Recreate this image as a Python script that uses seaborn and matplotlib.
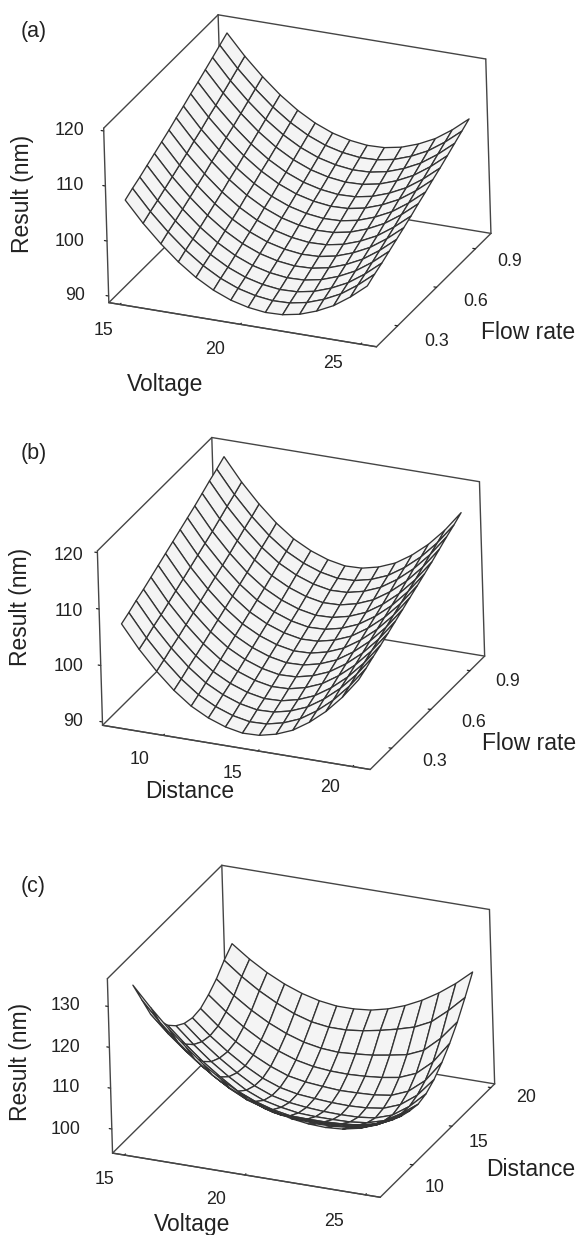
import numpy as np
import matplotlib
matplotlib.use("Agg")
import matplotlib.pyplot as plt
import seaborn as sns

W, H = 576, 1235

# Panel (a)
voltage_a = [15, 15.714, 16.429, 17.143, 17.857, 18.571, 19.286, 20, 20.714, 21.429, 22.143, 22.857, 23.571, 24.286, 25]
flow_a = [0.2, 0.257, 0.314, 0.371, 0.429, 0.486, 0.543, 0.6, 0.657, 0.714, 0.771, 0.829, 0.886, 0.943, 1.0]
result_a = [
    [106.3, 102.6, 99.4, 96.6, 94.3, 92.5, 91.2, 90.4, 90.0, 90.1, 90.7, 91.8, 93.3, 95.4, 97.9],
    [107.1, 103.4, 100.2, 97.4, 95.1, 93.3, 92.0, 91.2, 90.8, 90.9, 91.5, 92.6, 94.1, 96.2, 98.7],
    [107.8, 104.1, 100.9, 98.1, 95.8, 94.0, 92.7, 91.9, 91.5, 91.6, 92.2, 93.3, 94.8, 96.9, 99.4],
    [108.6, 104.9, 101.7, 98.9, 96.6, 94.8, 93.5, 92.7, 92.3, 92.4, 93.0, 94.1, 95.6, 97.7, 100.2],
    [109.4, 105.7, 102.5, 99.7, 97.4, 95.6, 94.3, 93.5, 93.1, 93.2, 93.8, 94.9, 96.4, 98.5, 101.0],
    [110.2, 106.5, 103.3, 100.5, 98.2, 96.4, 95.1, 94.3, 93.9, 94.0, 94.6, 95.7, 97.2, 99.3, 101.8],
    [111.0, 107.3, 104.1, 101.3, 99.0, 97.2, 95.9, 95.1, 94.7, 94.8, 95.4, 96.5, 98.0, 100.1, 102.6],
    [111.9, 108.2, 105.0, 102.2, 99.9, 98.1, 96.8, 96.0, 95.6, 95.7, 96.3, 97.4, 98.9, 101.0, 103.5],
    [112.7, 109.0, 105.8, 103.0, 100.7, 98.9, 97.6, 96.8, 96.4, 96.5, 97.1, 98.2, 99.7, 101.8, 104.3],
    [113.6, 109.9, 106.7, 103.9, 101.6, 99.8, 98.5, 97.7, 97.3, 97.4, 98.0, 99.1, 100.6, 102.7, 105.2],
    [114.4, 110.7, 107.5, 104.7, 102.4, 100.6, 99.3, 98.5, 98.1, 98.2, 98.8, 99.9, 101.4, 103.5, 106.0],
    [115.3, 111.6, 108.4, 105.6, 103.3, 101.5, 100.2, 99.4, 99.0, 99.1, 99.7, 100.8, 102.3, 104.4, 106.9],
    [116.2, 112.5, 109.3, 106.5, 104.2, 102.4, 101.1, 100.3, 99.9, 100.0, 100.6, 101.7, 103.2, 105.3, 107.8],
    [117.1, 113.4, 110.2, 107.4, 105.1, 103.3, 102.0, 101.2, 100.8, 100.9, 101.5, 102.6, 104.1, 106.2, 108.7],
    [118.0, 114.3, 111.1, 108.3, 106.0, 104.2, 102.9, 102.1, 101.7, 101.8, 102.4, 103.5, 105.0, 107.1, 109.6],
]

# Panel (b)
distance_b = [7.5, 8.393, 9.286, 10.179, 11.071, 11.964, 12.857, 13.75, 14.643, 15.536, 16.429, 17.321, 18.214, 19.107, 20]
flow_b = [0.2, 0.257, 0.314, 0.371, 0.429, 0.486, 0.543, 0.6, 0.657, 0.714, 0.771, 0.829, 0.886, 0.943, 1.0]
result_b = [
    [106.3, 102.3, 98.9, 96.0, 93.7, 92.1, 91.0, 90.4, 90.5, 91.2, 92.4, 94.3, 96.7, 99.7, 103.3],
    [107.0, 103.0, 99.6, 96.7, 94.4, 92.8, 91.7, 91.1, 91.2, 91.9, 93.1, 95.0, 97.4, 100.4, 104.0],
    [107.8, 103.8, 100.4, 97.5, 95.2, 93.6, 92.5, 91.9, 92.0, 92.7, 93.9, 95.8, 98.2, 101.2, 104.8],
    [108.5, 104.5, 101.1, 98.2, 95.9, 94.3, 93.2, 92.6, 92.7, 93.4, 94.6, 96.5, 98.9, 101.9, 105.5],
    [109.3, 105.3, 101.9, 99.0, 96.7, 95.1, 94.0, 93.4, 93.5, 94.2, 95.4, 97.3, 99.7, 102.7, 106.3],
    [110.1, 106.1, 102.7, 99.8, 97.5, 95.9, 94.8, 94.2, 94.3, 95.0, 96.2, 98.1, 100.5, 103.5, 107.1],
    [110.9, 106.9, 103.5, 100.6, 98.3, 96.7, 95.6, 95.0, 95.1, 95.8, 97.0, 98.9, 101.3, 104.3, 107.9],
    [111.7, 107.7, 104.3, 101.4, 99.1, 97.5, 96.4, 95.8, 95.9, 96.6, 97.8, 99.7, 102.1, 105.1, 108.7],
    [112.5, 108.5, 105.1, 102.2, 99.9, 98.3, 97.2, 96.6, 96.7, 97.4, 98.6, 100.5, 102.9, 105.9, 109.5],
    [113.3, 109.3, 105.9, 103.0, 100.7, 99.1, 98.0, 97.4, 97.5, 98.2, 99.4, 101.3, 103.7, 106.7, 110.3],
    [114.1, 110.1, 106.7, 103.8, 101.5, 99.9, 98.8, 98.2, 98.3, 99.0, 100.2, 102.1, 104.5, 107.5, 111.1],
    [115.0, 111.0, 107.6, 104.7, 102.4, 100.8, 99.7, 99.1, 99.2, 99.9, 101.1, 103.0, 105.4, 108.4, 112.0],
    [115.9, 111.9, 108.5, 105.6, 103.3, 101.7, 100.6, 100.0, 100.1, 100.8, 102.0, 103.9, 106.3, 109.3, 112.9],
    [116.7, 112.7, 109.3, 106.4, 104.1, 102.5, 101.4, 100.8, 100.9, 101.6, 102.8, 104.7, 107.1, 110.1, 113.7],
    [117.6, 113.6, 110.2, 107.3, 105.0, 103.4, 102.3, 101.7, 101.8, 102.5, 103.7, 105.6, 108.0, 111.0, 114.6],
]

# Panel (c)
voltage_c = [15, 15.714, 16.429, 17.143, 17.857, 18.571, 19.286, 20, 20.714, 21.429, 22.143, 22.857, 23.571, 24.286, 25]
distance_c = [7.5, 8.542, 9.583, 10.625, 11.667, 12.708, 13.75, 14.792, 15.833, 16.875, 17.917, 18.958, 20]
result_c = [
    [132.5, 127.7, 123.3, 119.4, 115.8, 112.9, 110.5, 108.6, 107.2, 106.1, 105.5, 105.3, 105.6, 106.5, 108.0],
    [127.0, 122.3, 118.2, 114.5, 111.3, 108.8, 106.8, 105.2, 104.4, 103.8, 103.5, 103.6, 104.0, 105.0, 106.8],
    [121.5, 117.4, 113.8, 110.5, 107.7, 105.6, 103.8, 102.3, 101.9, 101.6, 101.5, 101.6, 102.2, 103.4, 105.4],
    [118.0, 113.9, 110.2, 107.0, 104.1, 102.0, 100.7, 99.6, 99.5, 99.4, 99.5, 99.8, 100.6, 102.1, 104.3],
    [114.8, 110.9, 107.3, 104.2, 101.4, 99.6, 98.3, 97.5, 97.4, 97.4, 97.6, 98.0, 99.0, 101.0, 103.6],
    [112.7, 108.8, 105.3, 102.3, 99.7, 97.9, 96.9, 96.2, 96.0, 96.0, 96.1, 96.6, 97.8, 100.2, 103.2],
    [111.3, 107.5, 104.2, 101.3, 98.8, 97.1, 96.1, 95.6, 95.3, 95.2, 95.3, 95.8, 97.2, 100.0, 103.8],
    [110.7, 107.0, 103.8, 101.0, 98.7, 97.1, 96.2, 95.8, 95.5, 95.4, 95.6, 96.2, 97.8, 100.8, 105.3],
    [111.0, 107.4, 104.3, 101.7, 99.6, 98.0, 97.2, 96.8, 96.5, 96.6, 96.8, 97.4, 99.1, 102.4, 107.5],
    [112.4, 108.9, 105.9, 103.4, 101.4, 99.9, 99.0, 98.6, 98.5, 98.7, 99.1, 99.8, 101.5, 105.0, 110.2],
    [114.3, 110.9, 108.0, 105.6, 103.7, 102.3, 101.5, 101.2, 101.5, 101.9, 102.6, 103.4, 105.2, 108.8, 113.5],
    [116.9, 113.6, 110.8, 108.5, 106.6, 105.3, 104.7, 104.7, 105.2, 106.0, 107.0, 108.2, 110.2, 113.6, 117.5],
    [119.0, 115.9, 113.3, 111.2, 109.6, 108.5, 107.9, 107.9, 108.3, 109.3, 110.8, 112.8, 115.3, 118.3, 121.8],
]

x_ticks_a = [15, 20, 25]
y_ticks_a = [0.3, 0.6, 0.9]
z_ticks_a = [90, 100, 110, 120]
x_ticks_b = [10, 15, 20]
y_ticks_b = [0.3, 0.6, 0.9]
z_ticks_b = [90, 100, 110, 120]
x_ticks_c = [15, 20, 25]
y_ticks_c = [10, 15, 20]
z_ticks_c = [100, 110, 120, 130]

sns.set_theme(style="white")
plt.rcParams['font.family'] = ['Liberation Sans', 'DejaVu Sans']

LINE = '#454545'
MESH = '#333333'
FACE = '#f4f4f4'
SIDE = 437.4  # square 3D axes, in pixels


def panel(fig, cx, cy, xs, ys, zs, xlim, ylim, zlim, xt, yt, zt):
    # place the axes so the middle of the box lands on (cx, cy)
    left = cx - 0.5135 * SIDE
    bottom = (H - cy) - 0.5135 * SIDE
    ax = fig.add_axes([left / W, bottom / H, SIDE / W, SIDE / H],
                      projection='3d', proj_type='ortho', computed_zorder=False)
    ax.patch.set_alpha(0)
    ax.view_init(elev=25.3, azim=-65.4, roll=1.7)
    ax.set_box_aspect((292.8, 282.9, 193))
    ax.set_xlim(*xlim, view_margin=0)
    ax.set_ylim(*ylim, view_margin=0)
    ax.set_zlim(*zlim, view_margin=0)
    ax.grid(False)

    X, Y = np.meshgrid(xs, ys)
    ax.plot_surface(X, Y, np.array(zs), rstride=1, cstride=1, color=FACE, shade=False,
                    edgecolor=MESH, linewidth=0.95, antialiased=True, zorder=3)

    # walls behind the surface
    x0, x1 = xlim
    y0, y1 = ylim
    z0, z1 = zlim
    for px, py, pz in [([x0, x0], [y1, y1], [z0, z1]), ([x1, x1], [y1, y1], [z0, z1]),
                       ([x0, x1], [y1, y1], [z1, z1]), ([x0, x0], [y0, y1], [z1, z1]),
                       ([x0, x0], [y0, y1], [z0, z0]), ([x0, x1], [y1, y1], [z0, z0]),
                       ([x0, x0], [y0, y0], [z0, z1])]:
        ax.plot(px, py, pz, color=LINE, lw=1.0, zorder=1)

    ax.set_xticks(xt)
    ax.set_yticks(yt)
    ax.set_zticks(zt)
    ax.set_xticklabels([])
    ax.set_yticklabels([])
    ax.set_zticklabels([])
    for axis in (ax.xaxis, ax.yaxis, ax.zaxis):
        axis.set_pane_color((1, 1, 1, 0))
        axis.pane.set_edgecolor((1, 1, 1, 0))
        axis.line.set_color(LINE)
        axis.line.set_linewidth(1.0)
        axis._axinfo['tick']['inward_factor'] = 0.0
        axis._axinfo['tick']['outward_factor'] = 0.12
        axis._axinfo['tick']['linewidth'] = {True: 0.9, False: 0.9}
        axis._axinfo['tick']['color'] = LINE
    ax.zaxis._axinfo['juggled'] = (1, 0, 2)
    return ax


def label(fig, x, y, s, size=16.5, rotation=0):
    fig.text(x / W, 1 - y / H, s, fontsize=size, rotation=rotation, ha='center', va='center',
             color='#222222')


fig = plt.figure(figsize=(W / 100, H / 100), dpi=100, facecolor='white')

panel(fig, 297.3, 180.8, voltage_a, flow_a, result_a, (14.54, 25.66), (0.137, 1.02), (88.8, 120.5),
      x_ticks_a, y_ticks_a, z_ticks_a)
panel(fig, 291, 603.5, distance_b, flow_b, result_b, (6.79, 20.93), (0.136, 1.013), (89.4, 120.3),
      x_ticks_b, y_ticks_b, z_ticks_b)
panel(fig, 301, 1031.3, voltage_c, distance_c, result_c, (14.51, 25.62), (5.81, 20.48), (94.1, 136.8),
      x_ticks_c, y_ticks_c, z_ticks_c)

# tick labels sit where the reference has them, not at a fixed offset from the ticks
tick_text = [
    ('120', 69.6, 130.5), ('110', 69.6, 186), ('100', 69.6, 241), ('90', 75, 295),
    ('15', 103.6, 330), ('20', 215.3, 349), ('25', 333, 364),
    ('0.3', 436.6, 342), ('0.6', 475.4, 302), ('0.9', 509.8, 262),
    ('120', 68.4, 556), ('110', 68.4, 611), ('100', 68.4, 667), ('90', 73.3, 722),
    ('10', 139.8, 760), ('15', 233, 773.5), ('20', 330, 787.5),
    ('0.3', 434.7, 762), ('0.6', 473.6, 722.5), ('0.9', 507.6, 682),
    ('130', 65.5, 1005), ('120', 65.5, 1047), ('110', 65.5, 1087.5), ('100', 65.5, 1129.5),
    ('15', 104.7, 1180), ('20', 216.4, 1199.5), ('25', 333.7, 1221),
    ('10', 434.7, 1187.5), ('15', 479, 1142.5), ('20', 526, 1097.5),
]
for s, x, y in tick_text:
    label(fig, x, y, s, size=12.8)

label(fig, 33.7, 32, '(a)', size=15.5)
label(fig, 22, 194, 'Result (nm)', rotation=90)
label(fig, 165, 384, 'Voltage')
label(fig, 528, 332, 'Flow rate')

label(fig, 34, 453, '(b)', size=15.5)
label(fig, 20.4, 606.7, 'Result (nm)', rotation=90)
label(fig, 189.8, 792, 'Distance')
label(fig, 529, 743.5, 'Flow rate')

label(fig, 33.3, 886.7, '(c)', size=15.5)
label(fig, 20.4, 1061.7, 'Result (nm)', rotation=90)
label(fig, 192.4, 1224, 'Voltage')
label(fig, 530.9, 1169, 'Distance')

plt.savefig('out.png', dpi=100, facecolor='white')
